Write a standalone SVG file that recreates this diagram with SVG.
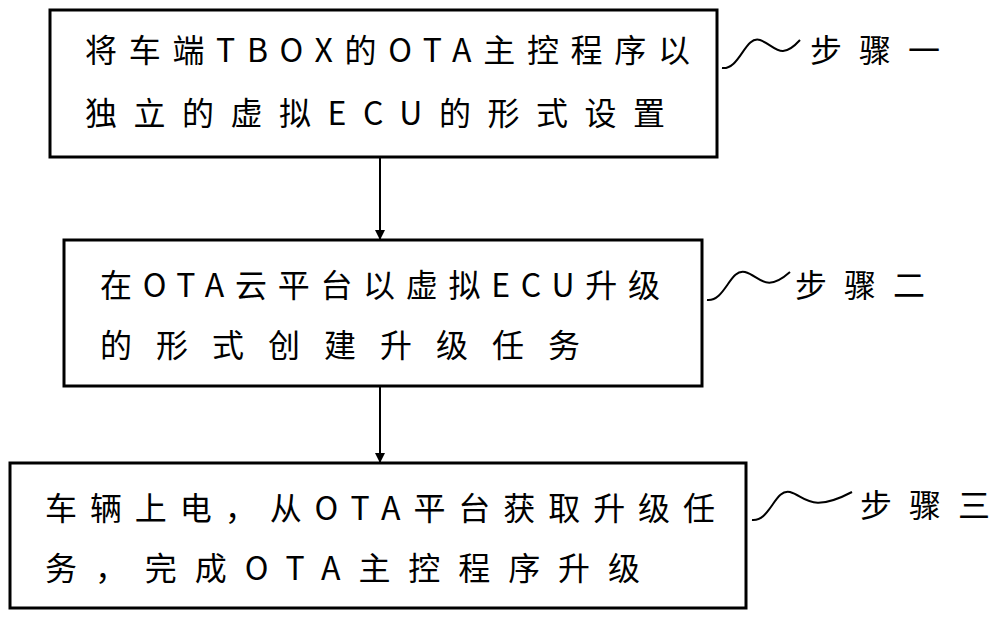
<svg xmlns="http://www.w3.org/2000/svg" width="1000" height="618" viewBox="0 0 1000 618">
<style>
.box{fill:#fff;stroke:#000;stroke-width:3}
.t{font-family:"Noto Sans CJK SC","Liberation Sans",sans-serif;font-size:32px;fill:#000}
.ln{stroke:#000;stroke-width:2;fill:none}
</style>
<defs><marker id="a" markerWidth="10" markerHeight="10" refX="9" refY="5" orient="auto" markerUnits="userSpaceOnUse"><path d="M0,0 L10,5 L0,10 Z" fill="#000"/></marker></defs>
<rect width="1000" height="618" fill="#fff"/>
<g id="connectors">
<line class="ln" x1="380" y1="157" x2="380" y2="239" marker-end="url(#a)"/>
<line class="ln" x1="380" y1="386" x2="380" y2="462" marker-end="url(#a)"/>
<path class="ln" d="M722,68 C740,70 745,35 760,40 C775,45 780,62 800,40"/>
<path class="ln" d="M707,300 C725,302 730,268 745,272 C760,276 765,294 790,272"/>
<path class="ln" d="M752,520 C770,522 775,488 790,492 C805,496 810,514 852,492"/>
</g>
<g id="node1"><rect class="box" x="50" y="10" width="667" height="147"/>
<text class="t" x="85" y="62" textLength="605" lengthAdjust="spacing">将车端TBOX的OTA主控程序以</text>
<text class="t" x="85" y="125" textLength="580" lengthAdjust="spacing">独立的虚拟ECU的形式设置</text></g>
<g id="node2"><rect class="box" x="64" y="240" width="638" height="146"/>
<text class="t" x="100" y="297" textLength="560" lengthAdjust="spacing">在OTA云平台以虚拟ECU升级</text>
<text class="t" x="100" y="357" textLength="480" lengthAdjust="spacing">的形式创建升级任务</text></g>
<g id="node3"><rect class="box" x="10" y="463" width="736" height="145"/>
<text class="t" x="45" y="520" textLength="670" lengthAdjust="spacing">车辆上电，从OTA平台获取升级任</text>
<text class="t" x="45" y="580" textLength="595" lengthAdjust="spacing">务，完成OTA主控程序升级</text></g>
<g id="label1"><text class="t" x="810" y="62" textLength="130" lengthAdjust="spacing">步骤一</text></g>
<g id="label2"><text class="t" x="795" y="297" textLength="130" lengthAdjust="spacing">步骤二</text></g>
<g id="label3"><text class="t" x="860" y="517" textLength="130" lengthAdjust="spacing">步骤三</text></g>
</svg>
